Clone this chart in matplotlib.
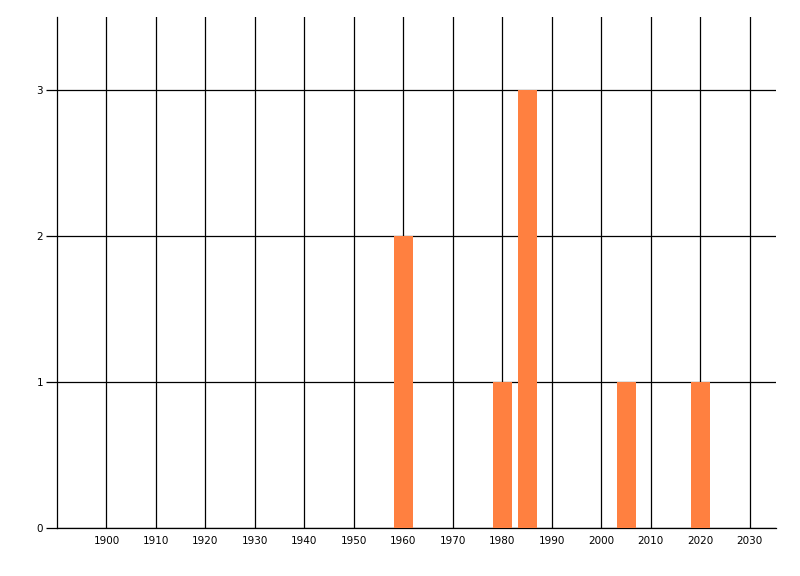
import matplotlib
matplotlib.use('Agg')
import matplotlib.pyplot as plt

# data
years = [1960, 1980, 1985, 2005, 2020]
counts = [2, 1, 3, 1, 1]
x_ticks = list(range(1900, 2040, 10))
y_ticks = [0, 1, 2, 3]

fig = plt.figure(figsize=(8, 5.76), dpi=100)
ax = fig.add_axes([57 / 800, 48 / 576, (776 - 57) / 800, (528 - 17) / 576])

ax.bar(years, counts, width=3.85, color='#FF8040', zorder=3)

ax.set_xlim(1890, 2035.3)
ax.set_ylim(0, 3.5)
ax.set_xticks(x_ticks)
ax.set_xticklabels([str(t) for t in x_ticks])
ax.set_yticks(y_ticks)
ax.set_yticklabels([str(t) for t in y_ticks])

ax.grid(True, color='black', linewidth=0.9, zorder=1)
ax.set_axisbelow(True)

for s in ['top', 'right']:
    ax.spines[s].set_visible(False)
for s in ['left', 'bottom']:
    ax.spines[s].set_color('black')
    ax.spines[s].set_linewidth(0.9)

ax.tick_params(axis='x', length=0, pad=6, labelsize=7.5, colors='black')
ax.tick_params(axis='y', length=8, width=0.9, pad=2, labelsize=7.5, colors='black')

fig.savefig('out.png', dpi=100)
